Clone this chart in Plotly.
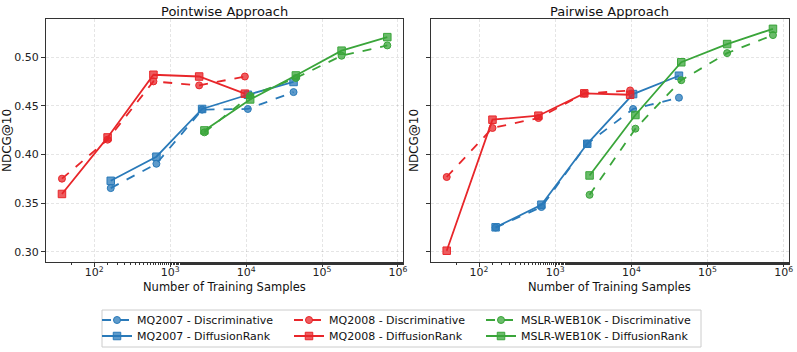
import plotly.graph_objects as go
from plotly.subplots import make_subplots

# Training-sample counts (x) per dataset
x_mq2007 = [165, 659, 2635, 10540, 42158]
x_mq2008 = [37.6, 150, 602, 2408, 9630]
x_mslr = [2826, 11304, 45216, 180853, 723412]

# Pointwise approach NDCG@10
pw_mq2007_disc = [0.3655, 0.3905, 0.446, 0.4467, 0.464]
pw_mq2007_diff = [0.373, 0.3977, 0.4467, 0.4613, 0.4744]
pw_mq2008_disc = [0.3752, 0.4152, 0.475, 0.4709, 0.480]
pw_mq2008_diff = [0.3595, 0.4175, 0.4818, 0.480, 0.4624]
pw_mslr_disc = [0.4227, 0.4603, 0.4785, 0.5013, 0.5119]
pw_mslr_diff = [0.4247, 0.4565, 0.4811, 0.5065, 0.5204]

# Pairwise approach NDCG@10
pr_mq2007_disc = [0.325, 0.3461, 0.411, 0.4467, 0.4583]
pr_mq2007_diff = [0.3253, 0.3485, 0.411, 0.462, 0.4808]
pr_mq2008_disc = [0.3769, 0.4272, 0.4374, 0.4625, 0.4657]
pr_mq2008_diff = [0.3013, 0.4357, 0.4398, 0.4627, 0.4613]
pr_mslr_disc = [0.3586, 0.4265, 0.4762, 0.504, 0.5225]
pr_mslr_diff = [0.3785, 0.4405, 0.4946, 0.5133, 0.5289]

titles = ["Pointwise Approach", "Pairwise Approach"]
xtick_vals = [1e2, 1e3, 1e4, 1e5, 1e6]
xtick_text = ["10<sup>2</sup>", "10<sup>3</sup>", "10<sup>4</sup>", "10<sup>5</sup>", "10<sup>6</sup>"]
ytick_vals = [0.30, 0.35, 0.40, 0.45, 0.50]

C_BLUE = "#2a7ab9"
C_RED = "#e8262a"
C_GREEN = "#3aa53a"

def rgba(hexc, a):
    h = hexc.lstrip("#")
    r, g, b = int(h[0:2], 16), int(h[2:4], 16), int(h[4:6], 16)
    return f"rgba({r},{g},{b},{a})"

FONT = "DejaVu Sans"
W, H = 797, 352
ML, MR, MT, MB = 46, 8, 19, 90
PW, PH = W - ML - MR, H - MT - MB

def px_x(p):
    return (p - ML) / PW

def px_y(p):
    return (H - MB - p) / PH

fig = make_subplots(rows=1, cols=2, shared_yaxes=True, subplot_titles=titles)

# legend slot positions (column, row) in the 3x2 legend grid
series = [
    ("MQ2007 - Discriminative", x_mq2007, pw_mq2007_disc, pr_mq2007_disc, C_BLUE, "dash", "circle", 0, 0),
    ("MQ2007 - DiffusionRank", x_mq2007, pw_mq2007_diff, pr_mq2007_diff, C_BLUE, "solid", "square", 0, 1),
    ("MQ2008 - Discriminative", x_mq2008, pw_mq2008_disc, pr_mq2008_disc, C_RED, "dash", "circle", 1, 0),
    ("MQ2008 - DiffusionRank", x_mq2008, pw_mq2008_diff, pr_mq2008_diff, C_RED, "solid", "square", 1, 1),
    ("MSLR-WEB10K - Discriminative", x_mslr, pw_mslr_disc, pr_mslr_disc, C_GREEN, "dash", "circle", 2, 0),
    ("MSLR-WEB10K - DiffusionRank", x_mslr, pw_mslr_diff, pr_mslr_diff, C_GREEN, "solid", "square", 2, 1),
]

col_x = [97, 289, 481]
row_y = [320, 336]
legend_layouts = {}
for k, (name, xs, ypw, ypr, col, dash, sym, lc, lr) in enumerate(series):
    leg = "legend" if k == 0 else f"legend{k + 1}"
    legend_layouts[leg] = dict(
        x=px_x(col_x[lc]), y=px_y(row_y[lr]), xanchor="left", yanchor="middle",
        orientation="h", font=dict(family=FONT, size=11, color="#111"),
        bgcolor="rgba(0,0,0,0)", borderwidth=0, itemwidth=30)
    msize = 7 if sym == "circle" else 7.5
    for ci, ys in ((1, ypw), (2, ypr)):
        fig.add_trace(go.Scatter(
            x=xs, y=ys, mode="lines+markers", name=name,
            line=dict(color=col, width=1.8, dash="dash" if dash == "dash" else "solid"),
            marker=dict(symbol=sym, size=msize, color=rgba(col, 0.75),
                        line=dict(color=col, width=1)),
            showlegend=(ci == 1), legend=leg, legendgroup=name,
        ), row=1, col=ci)

axis_common = dict(showline=True, linecolor="#333333", linewidth=1, mirror=True,
                   ticks="outside", ticklen=4, tickcolor="#333333",
                   showgrid=True, gridcolor="rgba(0,0,0,0.10)", griddash="3px,2px", gridwidth=0.8,
                   zeroline=False, automargin=False,
                   tickfont=dict(family=FONT, size=11, color="#222"))

x_domains = [[0, px_x(403.3)], [px_x(430.7), 1]]
for ci in (1, 2):
    fig.update_xaxes(type="log", range=[1.365, 6.07], tickvals=xtick_vals, ticktext=xtick_text,
                     domain=x_domains[ci - 1], ticklabelstandoff=-4,
                     minor=dict(ticks="outside", ticklen=2, tickcolor="#333333", showgrid=False),
                     row=1, col=ci, **axis_common)
fig.update_yaxes(range=[0.2897, 0.539], tickvals=ytick_vals, tickformat=".2f",
                 title=dict(text="NDCG@10", font=dict(family=FONT, size=12, color="#111"), standoff=6),
                 row=1, col=1, **axis_common)
fig.update_yaxes(range=[0.2897, 0.539], tickvals=ytick_vals, showticklabels=False,
                 title=dict(text="NDCG@10", font=dict(family=FONT, size=12, color="#111"), standoff=4),
                 row=1, col=2, **axis_common)

for i, ann in enumerate(fig.layout.annotations):
    ann.font = dict(family=FONT, size=13, color="#111")
    ann.x = sum(x_domains[i]) / 2
    ann.yshift = -2

for i in range(2):
    fig.add_annotation(text="Number of Training Samples", xref="paper", yref="paper",
                       x=sum(x_domains[i]) / 2, y=px_y(287), xanchor="center", yanchor="middle",
                       showarrow=False, font=dict(family=FONT, size=11.5, color="#111"))

fig.update_layout(
    width=W, height=H,
    margin=dict(l=ML, r=MR, t=MT, b=MB, autoexpand=False),
    paper_bgcolor="white", plot_bgcolor="white",
    font=dict(family=FONT, size=11, color="#111"),
    shapes=[dict(type="rect", xref="paper", yref="paper",
                 x0=px_x(102), x1=px_x(701), y0=px_y(347), y1=px_y(310),
                 line=dict(color="#cccccc", width=1), fillcolor="rgba(0,0,0,0)", layer="below")],
    **legend_layouts,
)

fig.write_html("out.html", config={"displayModeBar": False},
               post_script="document.body.style.margin='0';")
